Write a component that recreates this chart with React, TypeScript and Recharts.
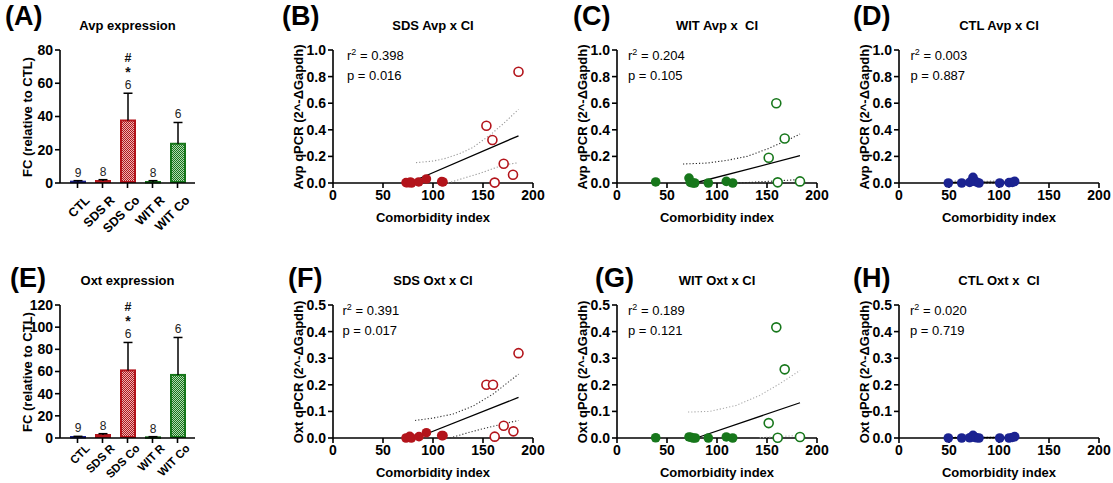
import React from 'react';
import { Bar, BarChart, Scatter, ScatterChart, XAxis, YAxis } from 'recharts';

const FONT = '"Liberation Sans", Arial, sans-serif';
const RED = '#b3141b';
const GREEN = '#17771b';
const BLUE = '#1b2391';

// bar panels (A, E)
const groups = ['CTL', 'SDS R', 'SDS Co', 'WIT R', 'WIT Co'];
const groupN = ['9', '8', '6', '8', '6'];
const avpMean = [0.8, 1.2, 37.6, 0.6, 23.6];
const avpSem = [0.6, 0.8, 16.4, 0.8, 12.8];
const avpMarks = [[], [], ['*', '#'], [], []];
const oxtMean = [0.9, 2.7, 61, 0.6, 56.9];
const oxtSem = [0.6, 1.2, 25.2, 0.6, 33.8];
const oxtMarks = [[], [], ['*', '#'], [], []];
const avpFcTicks = [0, 20, 40, 60, 80];
const oxtFcTicks = [0, 20, 40, 60, 80, 100, 120];

// scatter panels
const ciTicks = [0, 50, 100, 150, 200];
const avpTicks = [0, 0.2, 0.4, 0.6, 0.8, 1.0];
const oxtTicks = [0, 0.1, 0.2, 0.3, 0.4, 0.5];

const sdsResAvp = [
  { x: 73, y: 0.003 }, { x: 75, y: 0.002 }, { x: 77.4, y: 0.008 }, { x: 78.5, y: 0 },
  { x: 85.7, y: 0.008 }, { x: 93.4, y: 0.03 }, { x: 108.7, y: 0.01 }, { x: 110, y: 0.008 },
];
const sdsCoAvp = [
  { x: 153.4, y: 0.43 }, { x: 159.4, y: 0.323 }, { x: 161.7, y: 0.003 },
  { x: 170.7, y: 0.145 }, { x: 180, y: 0.062 }, { x: 185.5, y: 0.837 },
];
const sdsAvpFit = [{ x: 76, y: 0 }, { x: 185.5, y: 0.355 }];
const sdsAvpUpper = [
  { x: 83, y: 0.153 }, { x: 100, y: 0.165 }, { x: 113, y: 0.186 }, { x: 127, y: 0.222 },
  { x: 140, y: 0.268 }, { x: 157, y: 0.36 }, { x: 171, y: 0.45 }, { x: 185.5, y: 0.554 },
];
const sdsAvpLower = [
  { x: 115, y: 0 }, { x: 130, y: 0.035 }, { x: 147, y: 0.073 }, { x: 160, y: 0.108 },
  { x: 170, y: 0.135 }, { x: 185.5, y: 0.153 },
];

const witResAvp = [
  { x: 38.7, y: 0.008 }, { x: 72, y: 0.037 }, { x: 73.3, y: 0.005 }, { x: 76, y: 0 },
  { x: 77.7, y: 0 }, { x: 91.3, y: 0 }, { x: 109.3, y: 0.012 }, { x: 115.7, y: 0 },
];
const witCoAvp = [
  { x: 151.7, y: 0.19 }, { x: 159.3, y: 0.6 }, { x: 160.7, y: 0.005 },
  { x: 167.7, y: 0.335 }, { x: 183, y: 0.012 },
];
const witAvpFit = [{ x: 77.7, y: 0 }, { x: 183, y: 0.205 }];
const witAvpUpper = [
  { x: 66, y: 0.143 }, { x: 90, y: 0.15 }, { x: 110, y: 0.17 }, { x: 130, y: 0.2 },
  { x: 150, y: 0.255 }, { x: 170, y: 0.32 }, { x: 183, y: 0.368 },
];
const witAvpLower = [{ x: 122, y: 0 }, { x: 150, y: 0.012 }, { x: 183, y: 0.026 }];

const ctlAvp = [
  { x: 49.3, y: 0 }, { x: 62.7, y: 0 }, { x: 70.7, y: 0.005 }, { x: 74, y: 0.043 },
  { x: 75.3, y: 0.015 }, { x: 77.3, y: 0.008 }, { x: 80, y: 0 }, { x: 100.7, y: 0 },
  { x: 110, y: 0.003 }, { x: 113.3, y: 0.005 }, { x: 115.7, y: 0.012 },
];
const ctlAvpFit = [{ x: 49.3, y: 0.005 }, { x: 115.7, y: 0.006 }];
const ctlAvpUpper = [{ x: 49.3, y: 0.016 }, { x: 80, y: 0.012 }, { x: 115.7, y: 0.018 }];
const ctlAvpLower = [{ x: 60, y: 0 }, { x: 100, y: 0 }];

const sdsResOxt = [
  { x: 73, y: 0 }, { x: 76.7, y: 0.006 }, { x: 78.3, y: 0 }, { x: 86, y: 0.005 },
  { x: 93.4, y: 0.02 }, { x: 108.7, y: 0.009 }, { x: 110, y: 0.009 },
];
const sdsCoOxt = [
  { x: 153.4, y: 0.2 }, { x: 160, y: 0.2 }, { x: 161.7, y: 0.005 },
  { x: 170.7, y: 0.046 }, { x: 180.4, y: 0.025 }, { x: 185.5, y: 0.319 },
];
const sdsOxtFit = [{ x: 83, y: 0 }, { x: 185.5, y: 0.1525 }];
const sdsOxtUpper = [
  { x: 82, y: 0.066 }, { x: 100, y: 0.075 }, { x: 120, y: 0.09 }, { x: 140, y: 0.12 },
  { x: 160, y: 0.165 }, { x: 185.5, y: 0.24 },
];
const sdsOxtLower = [
  { x: 117, y: 0 }, { x: 135, y: 0.02 }, { x: 150, y: 0.035 }, { x: 170, y: 0.053 },
  { x: 185.5, y: 0.066 },
];

const witResOxt = [
  { x: 38.7, y: 0.001 }, { x: 72, y: 0.004 }, { x: 73.7, y: 0.003 }, { x: 76, y: 0 },
  { x: 78.3, y: 0 }, { x: 91.3, y: 0 }, { x: 109.3, y: 0.004 }, { x: 115.7, y: 0 },
];
const witCoOxt = [
  { x: 151.7, y: 0.056 }, { x: 159.3, y: 0.416 }, { x: 160.7, y: 0.001 },
  { x: 167.7, y: 0.258 }, { x: 183, y: 0.004 },
];
const witOxtFit = [{ x: 79.3, y: 0 }, { x: 183, y: 0.1325 }];
const witOxtUpper = [
  { x: 71, y: 0.0975 }, { x: 92.7, y: 0.1 }, { x: 119.3, y: 0.1225 }, { x: 142.7, y: 0.16 },
  { x: 162.7, y: 0.204 }, { x: 183, y: 0.254 },
];
const witOxtLower = [{ x: 142.7, y: 0.001 }, { x: 183, y: 0.01 }];

const ctlOxt = [
  { x: 49.3, y: 0 }, { x: 62.7, y: 0 }, { x: 70.7, y: 0.001 }, { x: 74, y: 0.01 },
  { x: 75.3, y: 0.004 }, { x: 77.3, y: 0.001 }, { x: 80, y: 0 }, { x: 100.7, y: 0 },
  { x: 110, y: 0 }, { x: 113.3, y: 0.002 }, { x: 115.7, y: 0.005 },
];
const ctlOxtFit = [{ x: 49.3, y: 0.001 }, { x: 115.7, y: 0.002 }];
const ctlOxtUpper = [{ x: 49.3, y: 0.004 }, { x: 80, y: 0.003 }, { x: 115.7, y: 0.005 }];
const ctlOxtLower = [{ x: 60, y: 0 }, { x: 100, y: 0 }];

const barFills = [BLUE, RED, 'url(#redCheck)', GREEN, 'url(#greenCheck)'];
const barStrokes = [BLUE, RED, RED, GREEN, GREEN];

const axisLine = { stroke: '#000', strokeWidth: 1.6 };
const tickStyle = { fill: '#000', fontSize: 14, fontWeight: 'bold', fontFamily: FONT };

function BarWithError(props: any) {
  const { x, y, width, height, payload } = props;
  const i = groups.indexOf(payload.name);
  const perUnit = height / payload.mean;
  const top = y - payload.sem * perUnit;
  const cx = x + width / 2;
  const markBase = [top - 18, top - 31];
  return (
    <g>
      <rect x={x + 1} y={y} width={width - 2} height={Math.max(height - 1, 0.5)}
        fill={barFills[i]} stroke={barStrokes[i]} strokeWidth={2} />
      <line x1={cx} y1={y} x2={cx} y2={top} stroke="#000" strokeWidth={1.5} />
      <line x1={cx - 4.5} y1={top} x2={cx + 4.5} y2={top} stroke="#000" strokeWidth={1.5} />
      <text x={cx} y={top - 4} textAnchor="middle" fontSize={12} fontFamily={FONT} fill="#222">{payload.n}</text>
      {payload.marks.map((m: string, k: number) => (
        <text key={m} x={cx} y={markBase[k] + (m === '*' ? 2 : 0)} textAnchor="middle"
          fontSize={m === '*' ? 14 : 12.5} fontWeight="bold" fontFamily={FONT} fill="#111">{m}</text>
      ))}
    </g>
  );
}

const makeGroupTick = (drop: number, size: number) => ({ x, y, payload }: any) => {
  const ax = x + 13;
  const ay = y + drop;
  return (
    <text x={ax} y={ay} textAnchor="end" transform={`rotate(-45 ${ax} ${ay})`}
      fontSize={size} fontWeight="bold" fontFamily={FONT} fill="#000">{payload.value}</text>
  );
};
const TopGroupTick = makeGroupTick(11, 12.5);
const BottomGroupTick = makeGroupTick(4, 11.5);

const NoDot = () => <g />;
const FilledDot = (color: string) => (p: any) => <circle cx={p.cx} cy={p.cy} r={4.8} fill={color} />;
const OpenDot = (color: string) => (p: any) =>
  <circle cx={p.cx} cy={p.cy} r={4.5} fill="#fff" stroke={color} strokeWidth={1.6} />;

function Txt({ left, top, size = 13, bold = true, children, style }: any) {
  return (
    <div style={{ position: 'absolute', left, top, fontSize: size, fontWeight: bold ? 'bold' : 'normal',
      lineHeight: `${size + 3}px`, whiteSpace: 'pre', ...style }}>{children}</div>
  );
}

function Centered({ cx, cy, size = 13, children, rotate = false }: any) {
  return (
    <div style={{ position: 'absolute', left: cx - 110, top: cy - 8, width: 220, height: 16,
      textAlign: 'center', fontSize: size, fontWeight: 'bold', lineHeight: '16px', whiteSpace: 'pre',
      transform: rotate ? 'rotate(-90deg)' : undefined }}>{children}</div>
  );
}

const PLOT_H = 133;

function BarPanel({ plotLeft, plotTop, letter, letterPos, title, means, sems, marks, ticks, GroupTick }: any) {
  const rows = groups.map((name, i) => ({ name, mean: means[i], sem: sems[i], n: groupN[i], marks: marks[i] }));
  const plotW = 135;
  return (
    <>
      <Txt left={letterPos[0]} top={letterPos[1] - 16} size={27}>{letter}</Txt>
      <Centered cx={plotLeft + plotW / 2} cy={plotTop - 24}>{title}</Centered>
      <Centered cx={plotLeft - 32} cy={plotTop + PLOT_H / 2} rotate>FC (relative to CTL)</Centered>
      <div style={{ position: 'absolute', left: plotLeft - 50, top: plotTop - 10 }}>
        <BarChart width={50 + plotW + 10} height={10 + PLOT_H + 55} data={rows}
          margin={{ top: 10, right: 10, bottom: 5, left: 0 }}>
          <defs>
            <pattern id="redCheck" width="2" height="2" patternUnits="userSpaceOnUse">
              <rect width="2" height="2" fill="#eab4b4" />
              <rect width="1" height="1" fill={RED} />
              <rect x="1" y="1" width="1" height="1" fill={RED} />
            </pattern>
            <pattern id="greenCheck" width="2" height="2" patternUnits="userSpaceOnUse">
              <rect width="2" height="2" fill="#b2d6b2" />
              <rect width="1" height="1" fill={GREEN} />
              <rect x="1" y="1" width="1" height="1" fill={GREEN} />
            </pattern>
          </defs>
          <XAxis dataKey="name" type="category" interval={0} padding={{ left: 5, right: 5 }} height={50}
            axisLine={axisLine} tickLine={axisLine} tickSize={5} tick={<GroupTick />} />
          <YAxis type="number" domain={[0, ticks[ticks.length - 1]]} ticks={ticks} width={50}
            axisLine={axisLine} tickLine={axisLine} tickSize={5} tickMargin={2} tick={tickStyle} />
          <Bar dataKey="mean" barSize={16} shape={BarWithError} isAnimationActive={false} />
        </BarChart>
      </div>
    </>
  );
}

function ScatterPanel({ plotLeft, plotTop, letter, letterPos, title, yLabel, yMax, yTicks, filled, open,
  fit, upper, lower, color, bandColor, r2, p, statDx }: any) {
  const plotW = 200;
  const band = { stroke: bandColor, strokeWidth: 1.1, strokeDasharray: '1.2 2' };
  return (
    <>
      <Txt left={letterPos[0]} top={letterPos[1] - 16} size={27}>{letter}</Txt>
      <Centered cx={plotLeft + plotW / 2} cy={plotTop - 24}>{title}</Centered>
      <Centered cx={plotLeft - 34} cy={plotTop + PLOT_H / 2} rotate>{yLabel}</Centered>
      <Centered cx={plotLeft + plotW / 2} cy={plotTop + 168}>Comorbidity index</Centered>
      <Txt left={plotLeft + statDx} top={plotTop + 5.5 - 8} bold={false}>
        r<sup style={{ fontSize: 9, verticalAlign: 5, lineHeight: 0 }}>2</sup> = {r2}
      </Txt>
      <Txt left={plotLeft + statDx} top={plotTop + 25.5 - 8} bold={false}>p = {p}</Txt>
      <div style={{ position: 'absolute', left: plotLeft - 50, top: plotTop - 10 }}>
        <ScatterChart width={50 + plotW + 15} height={10 + PLOT_H + 35}
          margin={{ top: 10, right: 15, bottom: 5, left: 0 }}>
          <XAxis type="number" dataKey="x" domain={[0, 200]} ticks={ciTicks} height={30}
            axisLine={axisLine} tickLine={axisLine} tickSize={5} tickMargin={2} tick={tickStyle} />
          <YAxis type="number" dataKey="y" domain={[0, yMax]} ticks={yTicks} width={50}
            axisLine={axisLine} tickLine={axisLine} tickSize={5} tickMargin={2} tick={tickStyle}
            tickFormatter={(v: number) => v.toFixed(1)} />
          <Scatter data={upper} line={band} shape={NoDot} isAnimationActive={false} />
          <Scatter data={lower} line={band} shape={NoDot} isAnimationActive={false} />
          <Scatter data={fit} line={{ stroke: '#000', strokeWidth: 1.3 }} shape={NoDot} isAnimationActive={false} />
          <Scatter data={filled} shape={FilledDot(color)} isAnimationActive={false} />
          {open && <Scatter data={open} shape={OpenDot(color)} isAnimationActive={false} />}
        </ScatterChart>
      </div>
    </>
  );
}

export default function App() {
  const yAvp = 'Avp qPCR (2^-ΔGapdh)';
  const yOxt = 'Oxt qPCR (2^-ΔGapdh)';
  return (
    <div style={{ position: 'absolute', left: 0, top: 0, width: 1113, height: 483, background: '#fff',
      fontFamily: FONT, color: '#000', overflow: 'hidden' }}>
      <BarPanel plotLeft={60} plotTop={50} letter="(A)" letterPos={[5, 17]} title="Avp expression"
        means={avpMean} sems={avpSem} marks={avpMarks} ticks={avpFcTicks} GroupTick={TopGroupTick} />
      <ScatterPanel plotLeft={333} plotTop={50} letter="(B)" letterPos={[282, 17]} title="SDS Avp x CI"
        yLabel={yAvp} yMax={1} yTicks={avpTicks} filled={sdsResAvp} open={sdsCoAvp} fit={sdsAvpFit}
        upper={sdsAvpUpper} lower={sdsAvpLower} color={RED} bandColor="#999" r2="0.398" p="0.016" statDx={14} />
      <ScatterPanel plotLeft={617} plotTop={50} letter="(C)" letterPos={[573, 17]} title="WIT Avp x  CI"
        yLabel={yAvp} yMax={1} yTicks={avpTicks} filled={witResAvp} open={witCoAvp} fit={witAvpFit}
        upper={witAvpUpper} lower={witAvpLower} color={GREEN} bandColor="#222" r2="0.204" p="0.105" statDx={11} />
      <ScatterPanel plotLeft={899} plotTop={50} letter="(D)" letterPos={[853, 17]} title="CTL Avp x CI"
        yLabel={yAvp} yMax={1} yTicks={avpTicks} filled={ctlAvp} fit={ctlAvpFit}
        upper={ctlAvpUpper} lower={ctlAvpLower} color={BLUE} bandColor="#888" r2="0.003" p="0.887" statDx={11.5} />

      <BarPanel plotLeft={60} plotTop={305} letter="(E)" letterPos={[10, 279]} title="Oxt expression"
        means={oxtMean} sems={oxtSem} marks={oxtMarks} ticks={oxtFcTicks} GroupTick={BottomGroupTick} />
      <ScatterPanel plotLeft={333} plotTop={305} letter="(F)" letterPos={[288, 279]} title="SDS Oxt x CI"
        yLabel={yOxt} yMax={0.5} yTicks={oxtTicks} filled={sdsResOxt} open={sdsCoOxt} fit={sdsOxtFit}
        upper={sdsOxtUpper} lower={sdsOxtLower} color={RED} bandColor="#333" r2="0.391" p="0.017" statDx={9.5} />
      <ScatterPanel plotLeft={617} plotTop={305} letter="(G)" letterPos={[595, 279]} title="WIT Oxt x CI"
        yLabel={yOxt} yMax={0.5} yTicks={oxtTicks} filled={witResOxt} open={witCoOxt} fit={witOxtFit}
        upper={witOxtUpper} lower={witOxtLower} color={GREEN} bandColor="#aaa" r2="0.189" p="0.121" statDx={11} />
      <ScatterPanel plotLeft={899} plotTop={305} letter="(H)" letterPos={[853, 279]} title="CTL Oxt x  CI"
        yLabel={yOxt} yMax={0.5} yTicks={oxtTicks} filled={ctlOxt} fit={ctlOxtFit}
        upper={ctlOxtUpper} lower={ctlOxtLower} color={BLUE} bandColor="#999" r2="0.020" p="0.719" statDx={11} />
    </div>
  );
}
